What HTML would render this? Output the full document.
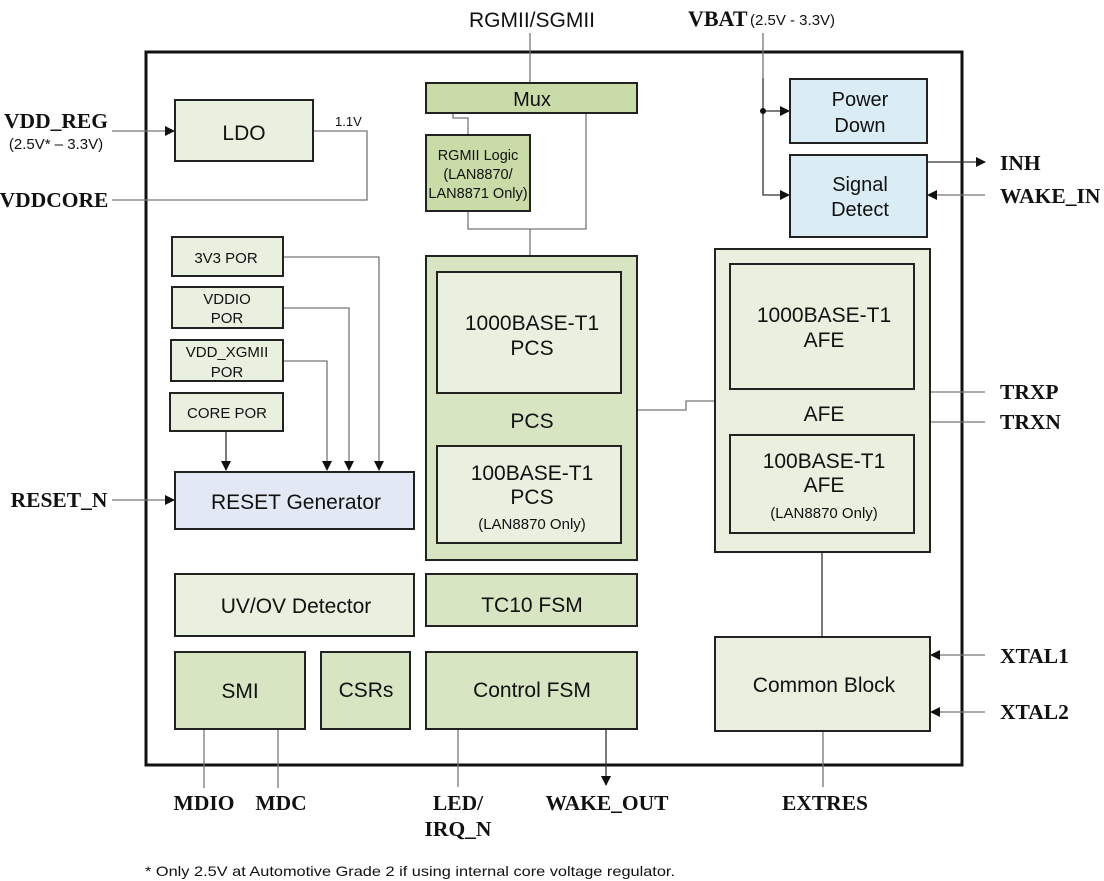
<!DOCTYPE html>
<html><head><meta charset="utf-8"><style>
html,body{margin:0;padding:0;background:#fff;}
svg{display:block;}
text{font-family:"Liberation Sans",sans-serif;fill:#111;}
.b{font-family:"Liberation Serif",serif;font-weight:bold;}
.bx{stroke:#222;stroke-width:2;}
.l{stroke:#777;stroke-width:1.3;fill:none;}
.d{stroke:#333;stroke-width:1.3;fill:none;}
</style></head><body>
<svg width="1104" height="881" viewBox="0 0 1104 881" xmlns="http://www.w3.org/2000/svg">
<defs>
<marker id="a" markerWidth="10" markerHeight="10" refX="9" refY="5" orient="auto" markerUnits="userSpaceOnUse"><path d="M0,0 L10,5 L0,10 z" fill="#111"/></marker>
</defs>
<rect x="146" y="52" width="816" height="713" fill="#fff" stroke="#111" stroke-width="3"/>

<path class="l" d="M112,131 H174" marker-end="url(#a)"/>
<path class="l" d="M313,131 H367 V200 H112"/>
<path class="l" d="M530,33 V83"/>
<path class="l" d="M453,113 V118 H468 V135"/>
<path class="l" d="M586,113 V229 H468 V211"/>
<path class="l" d="M530,229 V256"/>
<path class="l" d="M637,410 H686 V401 H714"/>
<path class="l" d="M763,33 V78"/>
<path class="d" d="M763,78 V195 H789" marker-end="url(#a)"/>
<path class="d" d="M763,111 H789" marker-end="url(#a)"/>
<circle cx="763" cy="111" r="3" fill="#111"/>
<path class="d" d="M927,162 H985" marker-end="url(#a)"/>
<path class="l" d="M985,195 H928" marker-end="url(#a)"/>
<path class="l" d="M930,392 H985"/>
<path class="l" d="M930,422 H985"/>
<path class="l" d="M283,257 H379 V470" marker-end="url(#a)"/>
<path class="l" d="M283,308 H349 V470" marker-end="url(#a)"/>
<path class="l" d="M283,361 H327 V470" marker-end="url(#a)"/>
<path class="d" d="M226,431 V470" marker-end="url(#a)"/>
<path class="l" d="M112,500 H174" marker-end="url(#a)"/>
<path class="d" d="M822,552 V636"/>
<path class="l" d="M985,655 H931" marker-end="url(#a)"/>
<path class="l" d="M985,712 H931" marker-end="url(#a)"/>
<path class="l" d="M204,730 V788"/>
<path class="l" d="M278,730 V788"/>
<path class="l" d="M458,730 V787"/>
<path class="d" d="M606,730 V785" marker-end="url(#a)"/>
<path class="l" d="M823,732 V787"/>

<rect class="bx" x="175" y="100" width="138" height="61" fill="#eaf0df"/>
<text x="244" y="140" font-size="21" text-anchor="middle">LDO</text>
<text x="335" y="126" font-size="13">1.1V</text>

<rect class="bx" x="426" y="83" width="211" height="30" fill="#c9dba6"/>
<text x="532" y="106" font-size="20" text-anchor="middle">Mux</text>
<rect class="bx" x="426" y="135" width="104" height="76" fill="#c9dba6"/>
<text x="478" y="160" font-size="14.5" text-anchor="middle">RGMII Logic</text>
<text x="478" y="179" font-size="14.5" text-anchor="middle">(LAN8870/</text>
<text x="478" y="198" font-size="14.5" text-anchor="middle">LAN8871 Only)</text>

<rect class="bx" x="790" y="79" width="137" height="64" fill="#dbedf4"/>
<text x="860" y="106" font-size="20" text-anchor="middle">Power</text>
<text x="860" y="132" font-size="20" text-anchor="middle">Down</text>
<rect class="bx" x="790" y="155" width="137" height="82" fill="#dbedf4"/>
<text x="860" y="191" font-size="20" text-anchor="middle">Signal</text>
<text x="860" y="216" font-size="20" text-anchor="middle">Detect</text>

<rect class="bx" x="172" y="237" width="111" height="39" fill="#eaf0df"/>
<text x="226" y="263" font-size="15" text-anchor="middle">3V3 POR</text>
<rect class="bx" x="172" y="287" width="111" height="41" fill="#eaf0df"/>
<text x="227" y="304" font-size="15" text-anchor="middle">VDDIO</text>
<text x="227" y="323" font-size="15" text-anchor="middle">POR</text>
<rect class="bx" x="171" y="340" width="112" height="41" fill="#eaf0df"/>
<text x="227" y="357" font-size="15" text-anchor="middle">VDD_XGMII</text>
<text x="227" y="377" font-size="15" text-anchor="middle">POR</text>
<rect class="bx" x="170" y="393" width="113" height="38" fill="#eaf0df"/>
<text x="227" y="418" font-size="15" text-anchor="middle">CORE POR</text>

<rect class="bx" x="175" y="472" width="239" height="57" fill="#e3e9f4"/>
<text x="296" y="509" font-size="21" text-anchor="middle">RESET Generator</text>

<rect class="bx" x="426" y="256" width="211" height="304" fill="#d8e5c3"/>
<rect class="bx" x="437" y="272" width="184" height="121" fill="#eaf0df"/>
<text x="532" y="330" font-size="21" text-anchor="middle">1000BASE-T1</text>
<text x="532" y="355" font-size="21" text-anchor="middle">PCS</text>
<text x="532" y="428" font-size="21" text-anchor="middle">PCS</text>
<rect class="bx" x="437" y="446" width="184" height="97" fill="#eaf0df"/>
<text x="532" y="480" font-size="21" text-anchor="middle">100BASE-T1</text>
<text x="532" y="504" font-size="21" text-anchor="middle">PCS</text>
<text x="532" y="529" font-size="15" text-anchor="middle">(LAN8870 Only)</text>

<rect class="bx" x="715" y="249" width="215" height="303" fill="#eaf0df"/>
<rect class="bx" x="730" y="264" width="184" height="125" fill="#eaf0df"/>
<text x="824" y="322" font-size="21" text-anchor="middle">1000BASE-T1</text>
<text x="824" y="347" font-size="21" text-anchor="middle">AFE</text>
<text x="824" y="421" font-size="21" text-anchor="middle">AFE</text>
<rect class="bx" x="730" y="435" width="184" height="98" fill="#eaf0df"/>
<text x="824" y="468" font-size="21" text-anchor="middle">100BASE-T1</text>
<text x="824" y="492" font-size="21" text-anchor="middle">AFE</text>
<text x="824" y="518" font-size="15" text-anchor="middle">(LAN8870 Only)</text>

<rect class="bx" x="175" y="574" width="239" height="62" fill="#eaf0df"/>
<text x="296" y="613" font-size="21" text-anchor="middle">UV/OV Detector</text>
<rect class="bx" x="426" y="574" width="211" height="52" fill="#d8e5c3"/>
<text x="532" y="612" font-size="21" text-anchor="middle">TC10 FSM</text>
<rect class="bx" x="175" y="652" width="130" height="77" fill="#d8e5c3"/>
<text x="240" y="698" font-size="21" text-anchor="middle">SMI</text>
<rect class="bx" x="321" y="652" width="89" height="77" fill="#d8e5c3"/>
<text x="366" y="697" font-size="21" text-anchor="middle">CSRs</text>
<rect class="bx" x="426" y="652" width="211" height="77" fill="#d8e5c3"/>
<text x="532" y="697" font-size="21" text-anchor="middle">Control FSM</text>
<rect class="bx" x="715" y="637" width="215" height="94" fill="#eaf0df"/>
<text x="824" y="692" font-size="21" text-anchor="middle">Common Block</text>

<text x="532" y="27" font-size="21" text-anchor="middle">RGMII/SGMII</text>
<text class="b" x="688" y="26" font-size="22">VBAT</text>
<text x="750" y="25" font-size="15">(2.5V - 3.3V)</text>
<text class="b" x="56" y="128" font-size="21.5" text-anchor="middle">VDD_REG</text>
<text x="56" y="149" font-size="15" text-anchor="middle">(2.5V* – 3.3V)</text>
<text class="b" x="54" y="207" font-size="21.5" text-anchor="middle">VDDCORE</text>
<text class="b" x="59" y="507" font-size="21.5" text-anchor="middle">RESET_N</text>
<text class="b" x="1000" y="170" font-size="21.5">INH</text>
<text class="b" x="1000" y="203" font-size="21.5">WAKE_IN</text>
<text class="b" x="1000" y="399" font-size="21.5">TRXP</text>
<text class="b" x="1000" y="429" font-size="21.5">TRXN</text>
<text class="b" x="1000" y="663" font-size="21.5">XTAL1</text>
<text class="b" x="1000" y="719" font-size="21.5">XTAL2</text>
<text class="b" x="204" y="810" font-size="21.5" text-anchor="middle">MDIO</text>
<text class="b" x="281" y="810" font-size="21.5" text-anchor="middle">MDC</text>
<text class="b" x="458" y="810" font-size="21.5" text-anchor="middle">LED/</text>
<text class="b" x="458" y="836" font-size="21.5" text-anchor="middle">IRQ_N</text>
<text class="b" x="607" y="810" font-size="21.5" text-anchor="middle">WAKE_OUT</text>
<text class="b" x="825" y="810" font-size="21.5" text-anchor="middle">EXTRES</text>
<text x="145" y="876" font-size="14" textLength="530" lengthAdjust="spacingAndGlyphs">* Only 2.5V at Automotive Grade 2 if using internal core voltage regulator.</text>
</svg>
</body></html>
